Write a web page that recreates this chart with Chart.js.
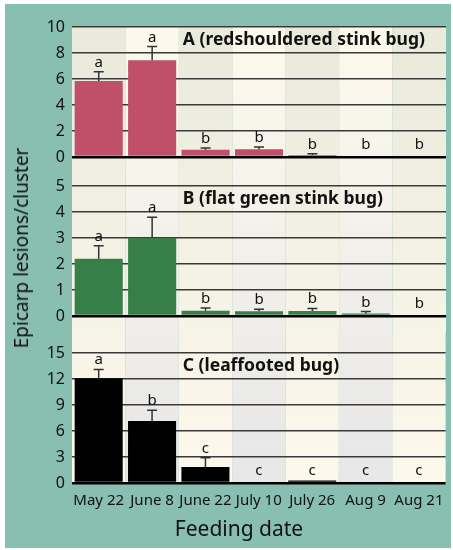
<!DOCTYPE html>
<html>
<head>
<meta charset="utf-8">
<script src="https://cdn.jsdelivr.net/npm/chart.js@4.4.1/dist/chart.umd.min.js"></script>
<style>
  body { margin: 0; background: #fff; }
  #wrap { position: relative; width: 453px; height: 550px; }
  #frame { position: absolute; left: 5px; top: 4px; width: 446px; height: 544px; background: #88bfb1; }
  .panel { position: absolute; left: 0; }
  .axt { position: absolute; font-family: "Noto Sans", sans-serif; color: #111; white-space: nowrap; }
  #ytitle { left: 21px; top: 248px; font-size: 19px; transform: translate(-50%, -50%) rotate(-90deg); }
  #xtitle { left: 239px; top: 528px; font-size: 21px; transform: translate(-50%, -50%); }
</style>
</head>
<body>
<div id="wrap">
  <div id="frame"></div>
  <canvas id="chartA" class="panel" width="453" height="180" style="top:0px"></canvas>
  <canvas id="chartB" class="panel" width="453" height="170" style="top:165px"></canvas>
  <canvas id="chartC" class="panel" width="453" height="217" style="top:333px"></canvas>
  <div id="ytitle" class="axt">Epicarp lesions/cluster</div>
  <div id="xtitle" class="axt">Feeding date</div>
</div>
<script>
// feeding dates
const dates = ['May 22', 'June 8', 'June 22', 'July 10', 'July 26', 'Aug 9', 'Aug 21'];

// A - redshouldered stink bug
const redValues = [5.85, 7.45, 0.55, 0.6, 0.15, 0, 0];
const redErrors = [0.7, 1.05, 0.15, 0.17, 0.1, 0, 0];
const redLetters = ['a', 'a', 'b', 'b', 'b', 'b', 'b'];

// B - flat green stink bug
const greenValues = [2.2, 3.0, 0.2, 0.18, 0.19, 0.1, 0];
const greenErrors = [0.5, 0.8, 0.11, 0.08, 0.1, 0.07, 0];
const greenLetters = ['a', 'a', 'b', 'b', 'b', 'b', 'b'];

// C - leaffooted bug
const blackValues = [12.1, 7.15, 1.85, 0, 0.3, 0, 0];
const blackErrors = [1.0, 1.25, 1.05, 0, 0, 0, 0];
const blackLetters = ['a', 'b', 'c', 'c', 'c', 'c', 'c'];

const panelTitles = ['A (redshouldered stink bug)', 'B (flat green stink bug)', 'C (leaffooted bug)'];
const yMax = [10, 5, 15];
const yStep = [2, 1, 3];

Chart.defaults.font.family = '"Noto Sans", sans-serif';
Chart.defaults.color = '#111';

// page y where the shaded plot block starts / ends
const PLOT_TOP = 27, PLOT_BOTTOM = 484;

// shaded date columns, one vertical gradient over the whole block;
// each chart paints only its own band (page coords) so the canvases can overlap
function stripes(canvasTop, bandFrom, bandTo) {
  return {
    id: 'stripes',
    beforeDraw(chart) {
      const ctx = chart.ctx;
      const x = chart.scales.x;
      const step = x.width / dates.length;
      const g0 = PLOT_TOP - canvasTop, g1 = PLOT_BOTTOM - canvasTop;
      const odd = ctx.createLinearGradient(0, g0, 0, g1);
      odd.addColorStop(0, '#e9eadc');
      odd.addColorStop(1, '#fdf9ec');
      const even = ctx.createLinearGradient(0, g0, 0, g1);
      even.addColorStop(0, '#fdf9ec');
      even.addColorStop(1, '#e7e7e8');
      const from = bandFrom - canvasTop;
      const to = bandTo - canvasTop;
      ctx.save();
      for (let i = 0; i < dates.length; i++) {
        ctx.fillStyle = i % 2 ? even : odd;
        ctx.fillRect(x.getPixelForValue(i) - step / 2, from, step, to - from);
      }
      ctx.restore();
    }
  };
}

function marks(idx, values, errors, letters) {
  return {
    id: 'marks',
    afterDatasetsDraw(chart) {
      const ctx = chart.ctx;
      const x = chart.scales.x, y = chart.scales.y;
      const zero = y.getPixelForValue(0);
      ctx.save();
      ctx.strokeStyle = '#333';
      ctx.lineWidth = 1.5;
      ctx.fillStyle = '#111';
      ctx.font = '15px "Noto Sans"';
      ctx.textAlign = 'center';
      ctx.textBaseline = 'alphabetic';
      values.forEach((v, i) => {
        const cx = x.getPixelForValue(i);
        const top = y.getPixelForValue(v + errors[i]);
        if (errors[i] > 0) {
          ctx.beginPath();
          ctx.moveTo(cx, y.getPixelForValue(v));
          ctx.lineTo(cx, top);
          ctx.moveTo(cx - 5, top);
          ctx.lineTo(cx + 5, top);
          ctx.stroke();
        }
        ctx.fillText(letters[i], cx, Math.min(top - 5, zero - 8));
      });
      // panel title, between the two top gridlines, from column 3
      const ty = (y.getPixelForValue(yMax[idx]) + y.getPixelForValue(yMax[idx] - yStep[idx])) / 2;
      ctx.font = 'bold 17.5px "Noto Sans"';
      ctx.textAlign = 'left';
      ctx.textBaseline = 'middle';
      ctx.fillText(panelTitles[idx], x.getPixelForValue(2) - x.width / dates.length / 2 + 4, ty);
      ctx.restore();
    }
  };
}

function makePanel(id, idx, values, errors, letters, color, canvasTop, band, pad, showX) {
  return new Chart(document.getElementById(id), {
    type: 'bar',
    data: {
      labels: dates,
      datasets: [{
        data: values,
        backgroundColor: color,
        borderWidth: 0,
        barPercentage: 0.9,
        categoryPercentage: 1.0
      }]
    },
    options: {
      responsive: false,
      animation: false,
      layout: { padding: pad },
      plugins: { legend: { display: false }, tooltip: { enabled: false } },
      scales: {
        x: {
          display: showX,
          grid: { display: false, drawTicks: false },
          border: { display: false },
          ticks: { font: { size: 15 }, padding: 9, maxRotation: 0, autoSkip: false, color: '#111' },
          afterFit(s) { s.height = showX ? 30 : 0; }
        },
        y: {
          min: 0,
          max: yMax[idx],
          ticks: { stepSize: yStep[idx], font: { size: 16 }, padding: 7, color: '#111' },
          grid: {
            drawTicks: false,
            color: c => (c.tick.value === 0 ? '#000' : '#3a3a3a'),
            lineWidth: c => (c.tick.value === 0 ? 2.5 : 1.6)
          },
          border: { display: false },
          afterFit(s) { s.width = 72; }
        }
      }
    },
    plugins: [stripes(canvasTop, band[0], band[1]), marks(idx, values, errors, letters)]
  });
}

makePanel('chartA', 0, redValues, redErrors, redLetters, '#c0506a', 0, [27, 170],
  { top: 27, bottom: 23, left: 0, right: 7 }, false);
makePanel('chartB', 1, greenValues, greenErrors, greenLetters, '#367f48', 165, [170, 333],
  { top: 21, bottom: 19, left: 0, right: 7 }, false);
makePanel('chartC', 2, blackValues, blackErrors, blackLetters, '#000000', 333, [333, 484],
  { top: 20, bottom: 37, left: 0, right: 7 }, true);
</script>
</body>
</html>
